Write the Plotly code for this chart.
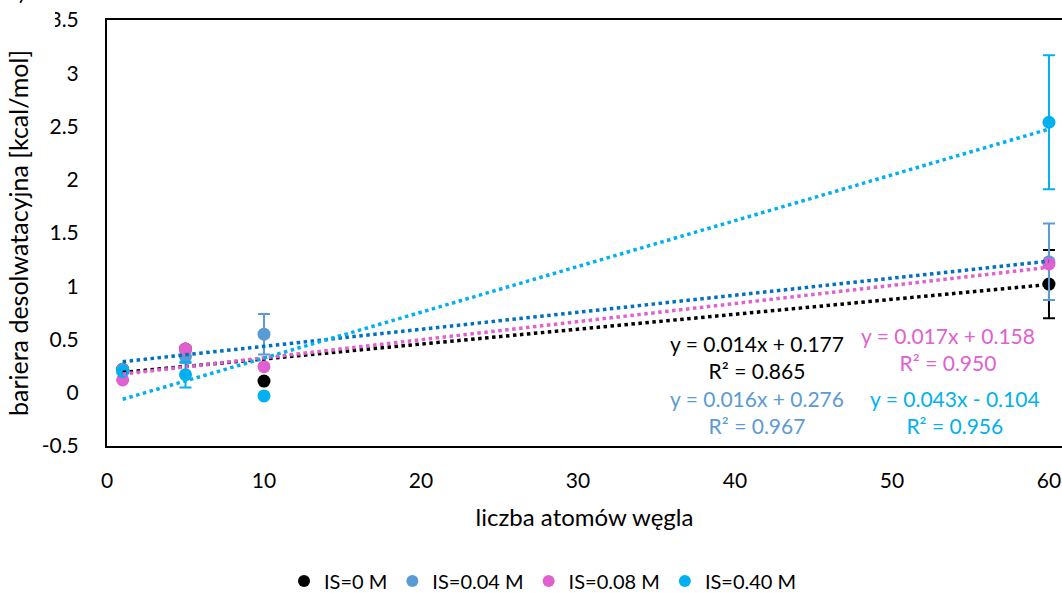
import plotly.graph_objects as go

# number of carbon atoms
carbons = [1, 5, 10, 60]

# desolvation barrier [kcal/mol] per ionic strength, with error bar sizes
is_0 = [0.22, 0.41, 0.11, 1.02]
is_0_err = [0.0, 0.0, 0.0, 0.32]
is_004 = [0.22, 0.34, 0.55, 1.23]
is_004_err = [0.02, 0.06, 0.19, 0.36]
is_008 = [0.12, 0.41, 0.245, 1.21]
is_008_err = [0.0, 0.03, 0.0, 0.0]
is_040 = [0.20, 0.17, -0.03, 2.54]
is_040_err = [0.02, 0.12, 0.0, 0.63]

series_names = ["IS=0 M", "IS=0.04 M", "IS=0.08 M", "IS=0.40 M"]

# linear fits: slope, intercept, R^2
fit_slope = [0.014, 0.016, 0.017, 0.043]
fit_intercept = [0.177, 0.276, 0.158, -0.104]
fit_r2 = [0.865, 0.967, 0.950, 0.956]

marker_colors = ["#000000", "#5B9BD5", "#E060CF", "#00B0F0"]
trend_colors = ["#000000", "#0070C0", "#E060CF", "#00B0F0"]
label_colors = ["#000000", "#5B9BD5", "#E060CF", "#00B0F0"]

FONT = "Lato, 'Open Sans', sans-serif"
W, H = 1062, 593
ML, MR, MT, MB = 107, 0, 20, 147
PW, PH = W - ML - MR, H - MT - MB


def px_x(px):
    return (px - ML) / PW


def px_y(py):
    return (H - MB - py) / PH


fig = go.Figure()

values = [is_0, is_004, is_008, is_040]
errors = [is_0_err, is_004_err, is_008_err, is_040_err]

for name, ys, err, col in zip(series_names, values, errors, marker_colors):
    fig.add_trace(go.Scatter(
        x=carbons, y=ys, mode="markers", name=name,
        marker=dict(color=col, size=13),
        error_y=dict(type="data", array=err, visible=True,
                     color=col, thickness=2, width=6),
        cliponaxis=False,
    ))

# trendlines over the data range
x0, x1 = min(carbons), max(carbons)
for m, b, col in zip(fit_slope, fit_intercept, trend_colors):
    fig.add_trace(go.Scatter(
        x=[x0, x1], y=[m * x0 + b, m * x1 + b], mode="lines",
        line=dict(color=col, width=3.5, dash="dot"),
        showlegend=False, hoverinfo="skip",
    ))


def eq_text(m, b):
    sign = "+" if b >= 0 else "-"
    return f"y = {m:.3f}x {sign} {abs(b):.3f}"


# equation label positions (data coordinates)
label_pos = [(41.4, 0.333), (41.4, -0.183), (53.6, 0.413), (54.0, -0.183)]
for (lx, ly), m, b, r2, col in zip(label_pos, fit_slope, fit_intercept, fit_r2, label_colors):
    fig.add_annotation(
        x=lx, y=ly, xref="x", yref="y",
        text=f"{eq_text(m, b)}<br>R² = {r2:.3f}",
        showarrow=False, align="center",
        font=dict(family=FONT, size=21, color=col),
    )

# panel letter box in the top-left corner
fig.add_shape(type="rect", xref="paper", yref="paper",
              x0=px_x(0), x1=px_x(55), y0=px_y(29), y1=px_y(-5),
              fillcolor="white", line=dict(width=0), layer="above")
fig.add_annotation(
    x=px_x(22), y=px_y(-8), xref="paper", yref="paper", text=")",
    showarrow=False, font=dict(family=FONT, size=22, color="#000"),
    xanchor="center", yanchor="middle",
)

fig.update_layout(
    width=W, height=H,
    margin=dict(l=ML, r=MR, t=MT, b=MB, autoexpand=False),
    paper_bgcolor="white", plot_bgcolor="white",
    font=dict(family=FONT, size=21, color="#000"),
    showlegend=True,
    legend=dict(orientation="h", x=px_x(543), xanchor="center", y=px_y(581),
                yanchor="middle", font=dict(family=FONT, size=20),
                itemsizing="constant"),
    xaxis=dict(
        range=[0, 60.83], tickvals=[0, 10, 20, 30, 40, 50, 60],
        showgrid=False, zeroline=False, showline=True, mirror=True,
        linecolor="#000", linewidth=2, ticks="", ticklabelstandoff=15,
        tickfont=dict(size=21), automargin=False,
        title=dict(text="liczba atomów węgla", font=dict(size=24), standoff=18),
    ),
    yaxis=dict(
        range=[-0.5, 3.5], tickvals=[-0.5, 0, 0.5, 1, 1.5, 2, 2.5, 3, 3.5],
        ticktext=["-0.5", "0", "0.5", "1", "1.5", "2", "2.5", "3", "3.5"],
        showgrid=False, zeroline=False, showline=True, mirror=False,
        linecolor="#000", linewidth=2, ticks="", ticklabelstandoff=22,
        tickfont=dict(size=21), automargin=False,
        title=dict(text="bariera desolwatacyjna [kcal/mol]", font=dict(size=25), standoff=6),
    ),
)

fig.write_html("out.html")
